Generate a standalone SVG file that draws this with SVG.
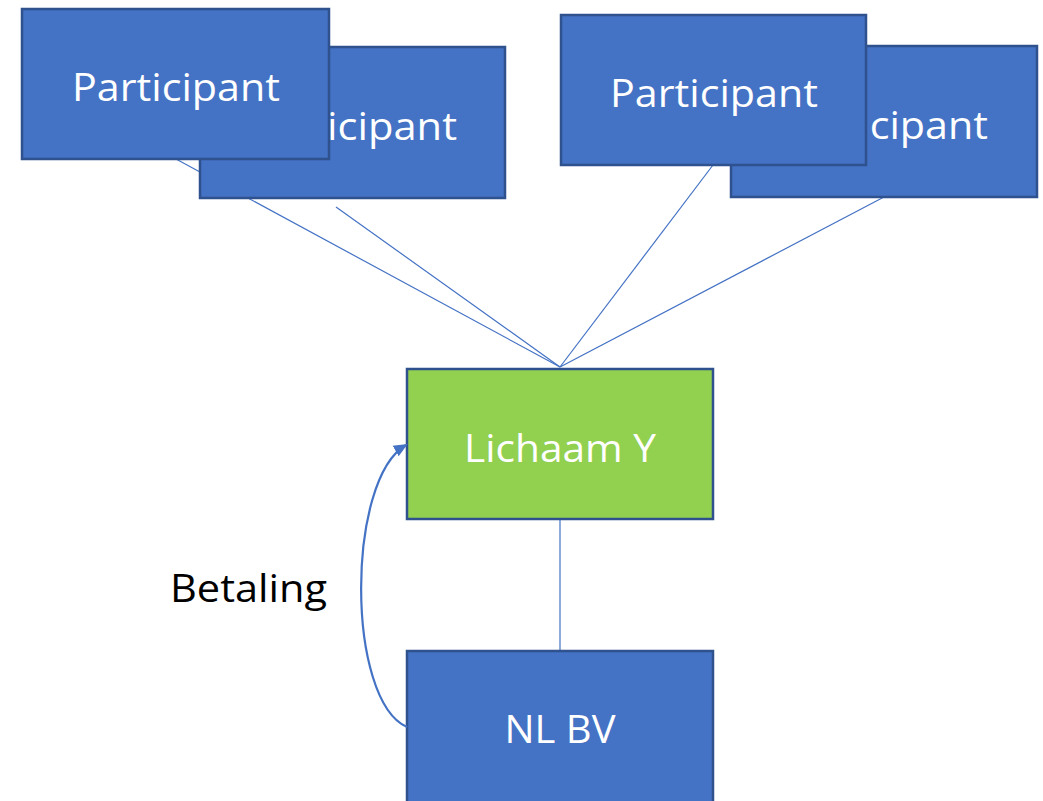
<svg xmlns="http://www.w3.org/2000/svg" width="1043" height="801" viewBox="0 0 1043 801">
<style>
.box{fill:#4472C4;stroke:#2F528F;stroke-width:2.5}
.green{fill:#92D050;stroke:#2F528F;stroke-width:2.5}
.lbl{fill:#fff;font-family:"Open Sans","Liberation Sans",sans-serif;font-size:38px;text-anchor:middle}
.conn{stroke:#4472C4;stroke-width:1.2;fill:none}
</style>
<defs>
<marker id="ah" markerWidth="14" markerHeight="14" refX="12" refY="7" orient="auto" markerUnits="userSpaceOnUse">
<path d="M0,1 L14,7 L0,13 z" fill="#4472C4"/>
</marker>
</defs>
<g id="connectors">
<line class="conn" x1="176" y1="159" x2="560" y2="367"/>
<line class="conn" x1="336" y1="207" x2="560" y2="367"/>
<line class="conn" x1="713" y1="165" x2="560" y2="367"/>
<line class="conn" x1="884" y1="197" x2="560" y2="367"/>
<line class="conn" x1="560" y1="519" x2="560" y2="651"/>
</g>
<g id="p-back-left"><rect class="box" x="200" y="47" width="305" height="151"/><text class="lbl" x="352" y="140" textLength="210" lengthAdjust="spacingAndGlyphs">Participant</text></g>
<g id="p-front-left"><rect class="box" x="22" y="9" width="307" height="150"/><text class="lbl" x="176" y="101" textLength="208" lengthAdjust="spacingAndGlyphs">Participant</text></g>
<g id="p-back-right"><rect class="box" x="731" y="46" width="306" height="151"/><text class="lbl" x="884" y="139" textLength="208" lengthAdjust="spacingAndGlyphs">Participant</text></g>
<g id="p-front-right"><rect class="box" x="561" y="15" width="305" height="150"/><text class="lbl" x="714" y="107" textLength="208" lengthAdjust="spacingAndGlyphs">Participant</text></g>
<g id="lichaam-y"><rect class="green" x="407" y="369" width="306" height="150"/><text class="lbl" x="560" y="462" textLength="192" lengthAdjust="spacingAndGlyphs">Lichaam Y</text></g>
<g id="nl-bv"><rect class="box" x="407" y="651" width="306" height="160"/><text class="lbl" x="560" y="743" textLength="111" lengthAdjust="spacingAndGlyphs">NL BV</text></g>
<g id="betaling-arrow">
<path d="M407,727 C346,700 346,480 406,445" fill="none" stroke="#4472C4" stroke-width="2.2" marker-end="url(#ah)"/>
<text x="170" y="602" font-family="Open Sans,Liberation Sans,sans-serif" font-size="38" fill="#000" textLength="157" lengthAdjust="spacingAndGlyphs">Betaling</text>
</g>
</svg>
